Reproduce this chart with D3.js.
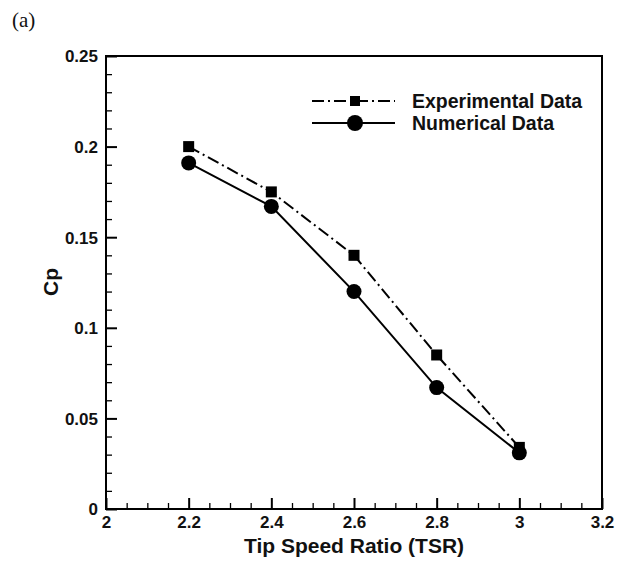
<!DOCTYPE html>
<html>
<head>
<meta charset="utf-8">
<script src="https://cdn.jsdelivr.net/npm/d3@7"></script>
<style>
  body { margin: 0; background: #fff; }
  svg { display: block; }
  text { font-family: Arial, "Liberation Sans", sans-serif; }
  text.panel { font-family: "Liberation Serif", "Times New Roman", serif; }
</style>
</head>
<body>
<svg id="chart" width="619" height="561"></svg>
<script>
// Power coefficient versus tip speed ratio
const tsr = [2.2, 2.4, 2.6, 2.8, 3.0];
const experimentalCp = [0.200, 0.175, 0.140, 0.085, 0.034];
const numericalCp = [0.191, 0.167, 0.120, 0.067, 0.031];
const xTicks = [2, 2.2, 2.4, 2.6, 2.8, 3, 3.2];
const yTicks = [0, 0.05, 0.1, 0.15, 0.2, 0.25];
const xTickLabels = ["2", "2.2", "2.4", "2.6", "2.8", "3", "3.2"];
const yTickLabels = ["0", "0.05", "0.1", "0.15", "0.2", "0.25"];

const svg = d3.select("#chart");
const plotLeft = 106, plotRight = 602, plotTop = 56, plotBottom = 509;

const x = d3.scaleLinear().domain([2, 3.2]).range([plotLeft, plotRight]);
const y = d3.scaleLinear().domain([0, 0.25]).range([plotBottom, plotTop]);

// frame
svg.append("rect")
  .attr("x", plotLeft).attr("y", plotTop)
  .attr("width", plotRight - plotLeft).attr("height", plotBottom - plotTop)
  .attr("fill", "none").attr("stroke", "#000").attr("stroke-width", 2);

// x axis: major + minor ticks pointing inward
const xMinor = d3.range(2, 3.2001, 0.05).filter(v => !xTicks.some(t => Math.abs(t - v) < 1e-6));
svg.append("g").attr("transform", `translate(0,${plotBottom})`)
  .call(d3.axisBottom(x).tickValues(xMinor).tickSize(-6).tickFormat(""))
  .call(g => g.select(".domain").remove())
  .call(g => g.selectAll("line").attr("stroke-width", 1.3));
svg.append("g").attr("transform", `translate(0,${plotBottom})`)
  .call(d3.axisBottom(x).tickValues(xTicks).tickSize(-11)
    .tickFormat((d, i) => xTickLabels[i]).tickPadding(0))
  .call(g => g.select(".domain").remove())
  .call(g => g.selectAll("line").attr("stroke-width", 2))
  .call(g => g.selectAll("text")
    .attr("y", 19).attr("dy", 0)
    .attr("font-size", 17).attr("font-weight", "bold").attr("fill", "#111"));

// y axis
const yMinor = d3.range(0, 0.2501, 0.01).filter(v => !yTicks.some(t => Math.abs(t - v) < 1e-6));
svg.append("g").attr("transform", `translate(${plotLeft},0)`)
  .call(d3.axisLeft(y).tickValues(yMinor).tickSize(-6).tickFormat(""))
  .call(g => g.select(".domain").remove())
  .call(g => g.selectAll("line").attr("stroke-width", 1.3));
svg.append("g").attr("transform", `translate(${plotLeft},0)`)
  .call(d3.axisLeft(y).tickValues(yTicks).tickSize(-11)
    .tickFormat((d, i) => yTickLabels[i]).tickPadding(0))
  .call(g => g.select(".domain").remove())
  .call(g => g.selectAll("line").attr("stroke-width", 2))
  .call(g => g.selectAll("text")
    .attr("x", -8).attr("dy", "0.35em")
    .attr("font-size", 17).attr("font-weight", "bold").attr("fill", "#111"));

// axis titles
svg.append("text")
  .attr("x", 354).attr("y", 553)
  .attr("text-anchor", "middle")
  .attr("font-size", 21).attr("font-weight", "bold").attr("fill", "#111")
  .text("Tip Speed Ratio (TSR)");
svg.append("text")
  .attr("transform", `translate(58,282) rotate(-90)`)
  .attr("text-anchor", "middle")
  .attr("font-size", 21).attr("font-weight", "bold").attr("fill", "#111")
  .text("Cp");

// panel label
svg.append("text")
  .attr("class", "panel")
  .attr("x", 12).attr("y", 27)
  .attr("font-size", 21).attr("fill", "#111")
  .text("(a)");

const line = d3.line().x(d => x(d[0])).y(d => y(d[1]));
const expPts = tsr.map((t, i) => [t, experimentalCp[i]]);
const numPts = tsr.map((t, i) => [t, numericalCp[i]]);
const dashDot = "12,4,2,4";

// experimental: dash-dot line with filled squares
svg.append("path").datum(expPts).attr("d", line)
  .attr("fill", "none").attr("stroke", "#000").attr("stroke-width", 2)
  .attr("stroke-dasharray", dashDot);
// numerical: solid line with filled circles
svg.append("path").datum(numPts).attr("d", line)
  .attr("fill", "none").attr("stroke", "#000").attr("stroke-width", 2);

const sq = 11;
svg.selectAll("rect.exp").data(expPts).join("rect")
  .attr("class", "exp")
  .attr("x", d => x(d[0]) - sq / 2).attr("y", d => y(d[1]) - sq / 2)
  .attr("width", sq).attr("height", sq).attr("fill", "#000");
svg.selectAll("circle.num").data(numPts).join("circle")
  .attr("class", "num")
  .attr("cx", d => x(d[0])).attr("cy", d => y(d[1]))
  .attr("r", 7.5).attr("fill", "#000");

// legend
const legend = svg.append("g");
const lx0 = 312, lx1 = 395, lm = 355, tx = 412;
const rows = [
  { label: "Experimental Data", yPos: 101, dash: dashDot, marker: "square" },
  { label: "Numerical Data", yPos: 123, dash: null, marker: "circle" }
];
rows.forEach(r => {
  legend.append("line")
    .attr("x1", lx0).attr("x2", lx1).attr("y1", r.yPos).attr("y2", r.yPos)
    .attr("stroke", "#000").attr("stroke-width", 2)
    .attr("stroke-dasharray", r.dash);
  if (r.marker === "square") {
    legend.append("rect").attr("x", lm - 5).attr("y", r.yPos - 5)
      .attr("width", 10).attr("height", 10).attr("fill", "#000");
  } else {
    legend.append("circle").attr("cx", lm).attr("cy", r.yPos).attr("r", 8).attr("fill", "#000");
  }
  legend.append("text")
    .attr("x", tx).attr("y", r.yPos).attr("dy", "0.36em")
    .attr("font-size", 19.5).attr("font-weight", "bold").attr("fill", "#111")
    .text(r.label);
});
</script>
</body>
</html>
